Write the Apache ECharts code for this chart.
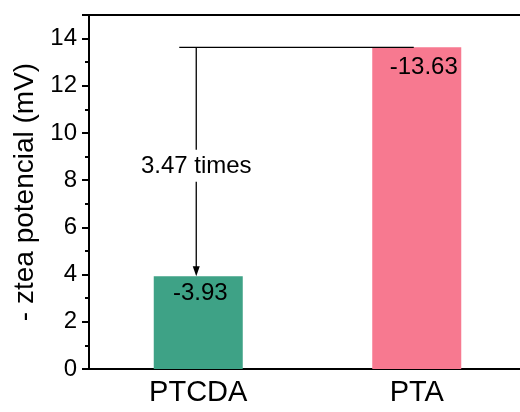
<!DOCTYPE html>
<html>
<head>
<meta charset="utf-8">
<script src="https://cdn.jsdelivr.net/npm/echarts@6/dist/echarts.min.js"></script>
<style>
  html, body { margin: 0; padding: 0; background: #fff; overflow: hidden; }
  #chart { width: 520px; height: 412px; }
</style>
</head>
<body>
<div id="chart"></div>
<script>
  // data
  const categories = ['PTCDA', 'PTA']
  const potential = [3.93, 13.63]
  const barLabels = ['-3.93', '-13.63']
  const barColors = ['#3ea286', '#f77990']
  const ratioText = '3.47 times'
  const yTicks = [0, 2, 4, 6, 8, 10, 12, 14]

  const font = 'Liberation Sans, Arial, sans-serif'
  const labelPadding = [[0, 0, 0, 4], [3, 0, 0, 14]]
  const chart = echarts.init(document.getElementById('chart'))

  // annotation: line at PTA level, arrow down to the PTCDA bar, text breaks the arrow
  function renderRatio(params, api) {
    const hi = api.coord([api.value(0), api.value(2)])
    const hiRight = api.coord([api.value(1), api.value(2)])
    const lo = api.coord([api.value(0), api.value(3)])
    const ax = hi[0] - 2
    const midY = (hi[1] + lo[1]) / 2 + 5
    const stroke = { stroke: '#000', lineWidth: 1.3 }
    return {
      type: 'group',
      children: [
        { type: 'line', shape: { x1: hi[0] - 19, y1: hi[1], x2: hiRight[0] - 3, y2: hi[1] }, style: stroke },
        { type: 'line', shape: { x1: ax, y1: hi[1], x2: ax, y2: midY - 17 }, style: stroke },
        { type: 'line', shape: { x1: ax, y1: midY + 15, x2: ax, y2: lo[1] - 8 }, style: stroke },
        {
          type: 'polygon',
          shape: { points: [[ax - 3.5, lo[1] - 10], [ax + 3.5, lo[1] - 10], [ax, lo[1]]] },
          style: { fill: '#000' }
        },
        {
          type: 'text',
          x: ax,
          y: midY,
          style: {
            text: ratioText,
            font: '24px ' + font,
            fill: '#000',
            align: 'center',
            verticalAlign: 'middle'
          }
        }
      ]
    }
  }

  chart.setOption({
    animation: false,
    grid: {
      left: 89,
      top: 15,
      right: -6,
      bottom: 43,
      containLabel: false,
      outerBoundsMode: 'none'
    },
    xAxis: [{
      type: 'category',
      data: categories,
      axisLine: { lineStyle: { color: '#000', width: 2 } },
      axisTick: { show: false },
      axisLabel: { color: '#000', fontSize: 29, fontFamily: font, margin: 9 }
    }, {
      // top frame line only
      type: 'category',
      data: categories,
      position: 'top',
      axisLine: { show: true, lineStyle: { color: '#000', width: 2 } },
      axisTick: { show: false },
      axisLabel: { show: false }
    }],
    yAxis: {
      type: 'value',
      min: 0,
      max: 15,
      interval: 2,
      name: '- ztea potencial (mV)',
      nameLocation: 'middle',
      nameGap: 47,
      nameTextStyle: { color: '#000', fontSize: 28, fontFamily: font },
      splitLine: { show: false },
      axisLine: { show: true, lineStyle: { color: '#000', width: 2 } },
      axisTick: { show: true, inside: false, length: 7, lineStyle: { color: '#000', width: 2 } },
      minorTick: { show: true, splitNumber: 2, length: 4, lineStyle: { color: '#000', width: 2 } },
      axisLabel: {
        color: '#000', fontSize: 24, fontFamily: font, margin: 12,
        formatter: v => (yTicks.indexOf(v) >= 0 ? String(v) : '')
      }
    },
    series: [{
      type: 'bar',
      xAxisIndex: 0,
      barWidth: 89,
      data: potential.map((v, i) => ({
        value: v,
        itemStyle: { color: barColors[i] },
        label: {
          show: true,
          position: 'insideTop',
          padding: labelPadding[i],
          formatter: barLabels[i],
          color: '#000',
          fontSize: 24,
          fontFamily: font
        }
      }))
    }, {
      type: 'custom',
      xAxisIndex: 0,
      silent: true,
      clip: false,
      z: 10,
      encode: { x: 0, y: 2 },
      data: [[0, 1, potential[1], potential[0]]],
      renderItem: renderRatio
    }]
  })
</script>
</body>
</html>
